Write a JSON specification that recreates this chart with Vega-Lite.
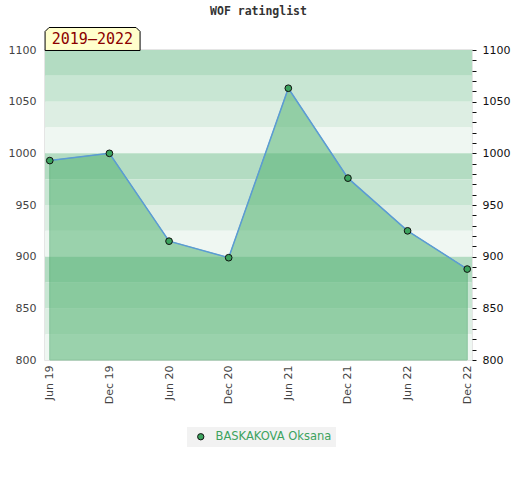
{
  "$schema": "https://vega.github.io/schema/vega-lite/v6.json",
  "width": 427,
  "height": 310,
  "autosize": {"type": "none"},
  "padding": {"left": 45, "top": 50, "right": 48, "bottom": 120},
  "background": "white",
  "title": {
    "text": "WOF ratinglist",
    "font": "DejaVu Sans Mono",
    "fontSize": 11.5,
    "fontWeight": "bold",
    "color": "#333",
    "anchor": "middle",
    "offset": 8
  },
  "config": {
    "view": {"stroke": "#dddddd", "strokeWidth": 1.5},
    "font": "DejaVu Sans"
  },
  "datasets": {
    "bands": [
      {"lo": 1075, "hi": 1100, "shade": 0},
      {"lo": 1050, "hi": 1075, "shade": 1},
      {"lo": 1025, "hi": 1050, "shade": 2},
      {"lo": 1000, "hi": 1025, "shade": 3},
      {"lo": 975, "hi": 1000, "shade": 0},
      {"lo": 950, "hi": 975, "shade": 1},
      {"lo": 925, "hi": 950, "shade": 2},
      {"lo": 900, "hi": 925, "shade": 3},
      {"lo": 875, "hi": 900, "shade": 0},
      {"lo": 850, "hi": 875, "shade": 1},
      {"lo": 825, "hi": 850, "shade": 2},
      {"lo": 800, "hi": 825, "shade": 3}
    ],
    "rating": [
      {"period": "Jun 19", "rating": 993, "player": "BASKAKOVA Oksana"},
      {"period": "Dec 19", "rating": 1000, "player": "BASKAKOVA Oksana"},
      {"period": "Jun 20", "rating": 915, "player": "BASKAKOVA Oksana"},
      {"period": "Dec 20", "rating": 899, "player": "BASKAKOVA Oksana"},
      {"period": "Jun 21", "rating": 1063, "player": "BASKAKOVA Oksana"},
      {"period": "Dec 21", "rating": 976, "player": "BASKAKOVA Oksana"},
      {"period": "Jun 22", "rating": 925, "player": "BASKAKOVA Oksana"},
      {"period": "Dec 22", "rating": 888, "player": "BASKAKOVA Oksana"}
    ],
    "label": [
      {"period": "Jun 19", "rating": 1100, "text": "2019–2022"}
    ]
  },
  "layer": [
    {
      "data": {"name": "bands"},
      "mark": {"type": "rect"},
      "encoding": {
        "x": {"value": 0},
        "x2": {"value": "width"},
        "y": {
          "field": "lo",
          "type": "quantitative",
          "scale": {"domain": [800, 1100], "nice": false, "zero": false},
          "axis": {
            "orient": "left",
            "values": [800, 850, 900, 950, 1000, 1050, 1100],
            "format": "d",
            "title": null,
            "grid": false,
            "domain": false,
            "ticks": false,
            "labelPadding": 9,
            "labelColor": "#444",
            "labelFontSize": 11
          }
        },
        "y2": {"field": "hi"},
        "fill": {
          "field": "shade",
          "type": "ordinal",
          "scale": {"domain": [0, 1, 2, 3], "range": ["#b3dcc2", "#c8e6d3", "#ddeee3", "#eff7f2"]},
          "legend": null
        }
      }
    },
    {
      "data": {"name": "rating"},
      "mark": {"type": "area", "color": "#56b474", "opacity": 0.55, "stroke": "#3a9d5d", "strokeWidth": 1},
      "encoding": {
        "x": {
          "field": "period",
          "type": "ordinal",
          "sort": null,
          "scale": {"type": "point", "padding": 0.08},
          "axis": {
            "title": null,
            "labelAngle": 270,
            "labelColor": "#444",
            "labelFontSize": 11,
            "domain": false,
            "ticks": false,
            "labelPadding": 5
          }
        },
        "y": {"field": "rating", "type": "quantitative", "axis": null},
        "y2": {"datum": 800}
      }
    },
    {
      "data": {"name": "rating"},
      "mark": {"type": "line", "color": "#5b9bd5", "strokeWidth": 1.5},
      "encoding": {
        "x": {"field": "period", "type": "ordinal", "sort": null},
        "y": {"field": "rating", "type": "quantitative", "axis": null}
      }
    },
    {
      "data": {"name": "rating"},
      "mark": {"type": "point", "filled": true, "size": 45, "stroke": "#111", "strokeWidth": 1, "opacity": 1},
      "encoding": {
        "x": {"field": "period", "type": "ordinal", "sort": null},
        "y": {
          "field": "rating",
          "type": "quantitative",
          "axis": {
            "orient": "right",
            "values": [800, 810, 820, 830, 840, 850, 860, 870, 880, 890, 900, 910, 920, 930, 940, 950, 960, 970, 980, 990, 1000, 1010, 1020, 1030, 1040, 1050, 1060, 1070, 1080, 1090, 1100],
            "format": "d",
            "labelExpr": "datum.value % 50 === 0 ? datum.label : ''",
            "title": null,
            "grid": false,
            "domain": false,
            "tickColor": "#111",
            "tickSize": 4,
            "labelPadding": 6,
            "labelColor": "#111",
            "labelFontSize": 11
          }
        },
        "color": {
          "field": "player",
          "type": "nominal",
          "scale": {"range": ["#3ca35e"]},
          "legend": {
            "orient": "none",
            "legendX": 142,
            "legendY": 377,
            "title": null,
            "fillColor": "#f2f2f2",
            "padding": 4,
            "symbolType": "circle",
            "symbolSize": 40,
            "symbolOffset": 4,
            "labelOffset": 9,
            "symbolStrokeColor": "#111",
            "symbolStrokeWidth": 1,
            "labelColor": "#3ca35e",
            "labelFontSize": 11.5
          }
        }
      }
    },
    {
      "data": {"name": "label"},
      "mark": {
        "type": "point",
        "shape": "M-1,0.242L-1,-0.158L-0.916,-0.242L0.916,-0.242L1,-0.158L1,0.242Z",
        "size": 9025,
        "filled": true,
        "fill": "#ffffcc",
        "stroke": "#000",
        "strokeWidth": 1,
        "opacity": 1,
        "xOffset": 42.8,
        "yOffset": -11
      },
      "encoding": {
        "x": {"field": "period", "type": "ordinal", "sort": null},
        "y": {"field": "rating", "type": "quantitative", "axis": null}
      }
    },
    {
      "data": {"name": "label"},
      "mark": {
        "type": "text",
        "font": "DejaVu Sans Mono",
        "fontSize": 15,
        "color": "#8b0000",
        "align": "left",
        "baseline": "middle",
        "dx": 2,
        "dy": -11
      },
      "encoding": {
        "x": {"field": "period", "type": "ordinal", "sort": null},
        "y": {"field": "rating", "type": "quantitative", "axis": null},
        "text": {"field": "text"}
      }
    }
  ],
  "resolve": {"axis": {"y": "independent"}}
}
